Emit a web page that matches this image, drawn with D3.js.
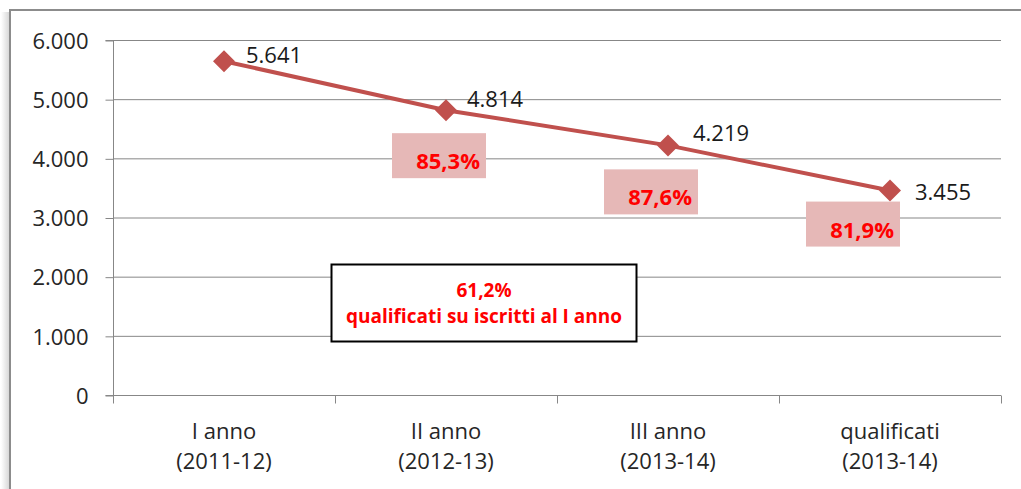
<!DOCTYPE html>
<html><head><meta charset="utf-8">
<script src="https://cdn.jsdelivr.net/npm/d3@7"></script>
<style>body{margin:0;background:#fff;}svg{display:block;font-family:"Open Sans",sans-serif;}</style>
</head><body>
<svg id="c" width="1021" height="489"></svg>
<script>
const categories = [["I anno","(2011-12)"],["II anno","(2012-13)"],["III anno","(2013-14)"],["qualificati","(2013-14)"]];
const values = [5641, 4814, 4219, 3455];
const valueLabels = ["5.641","4.814","4.219","3.455"];
const rates = ["85,3%","87,6%","81,9%"];
const yTicks = [0,1000,2000,3000,4000,5000,6000];
const yTickLabels = ["0","1.000","2.000","3.000","4.000","5.000","6.000"];
const totalRate = "61,2%";
const totalText = "qualificati su iscritti al I anno";

// annotation layout (pixel offsets relative to the data points)
const labelOffsets = [[22,2],[21,-3],[25,-4],[25,9]];
const rateBoxOffsets = [[-54,23],[-64,24],[-84,11]];

const svg = d3.select("#c");
const defs = svg.append("defs");
const g1 = defs.append("linearGradient").attr("id","sh").attr("x1","0").attr("x2","1");
g1.append("stop").attr("offset","0").attr("stop-color","#fff");
g1.append("stop").attr("offset","1").attr("stop-color","#d8d8d8");
svg.append("rect").attr("x",1).attr("y",12).attr("width",8).attr("height",477).attr("fill","url(#sh)");
svg.append("rect").attr("x",10).attr("y",10).attr("width",1030).attr("height",500)
  .attr("fill","#fff").attr("stroke","#8c8c8c").attr("stroke-width",2);

const L=113,R=1001,T=40,B=395;
const x = d3.scaleBand().domain(categories.map((d,i)=>i)).range([L,R]);
const y = d3.scaleLinear().domain([0,6000]).range([B,T]);

// gridlines
svg.append("g").selectAll("line").data(yTicks.filter(d=>d>0)).join("line")
  .attr("x1",L).attr("x2",R).attr("y1",d=>y(d)+0.5).attr("y2",d=>y(d)+0.5)
  .attr("stroke","#878787").attr("stroke-width",1);

// y axis
const ya = svg.append("g").attr("transform",`translate(${L+0.5},0.5)`)
  .call(d3.axisLeft(y).tickValues(yTicks).tickSize(8).tickPadding(17).tickFormat((d,i)=>yTickLabels[i]));
ya.select(".domain").attr("stroke","#878787").attr("d",`M-8,${y(0)}H0V${y(6000)}H-8`);
ya.selectAll(".tick line").attr("stroke","#878787");
ya.selectAll("text").attr("font-size",22).attr("fill","#262626").attr("font-family","Open Sans").attr("dy","0.35em");

// x axis
const xa = svg.append("g").attr("transform",`translate(0,${B+0.5})`);
xa.append("line").attr("x1",L).attr("x2",R).attr("stroke","#878787");
const bounds = x.domain().map(i=>x(i)).concat([R]);
xa.selectAll("line.t").data(bounds).join("line").attr("class","t")
  .attr("x1",d=>Math.round(d)+0.5).attr("x2",d=>Math.round(d)+0.5).attr("y1",0).attr("y2",8).attr("stroke","#878787");
const xl = xa.selectAll("text").data(categories).join("text")
  .attr("text-anchor","middle").attr("font-size",22).attr("fill","#262626")
  .attr("x",(d,i)=>x(i)+x.bandwidth()/2);
xl.append("tspan").attr("x",(d,i)=>x(i)+x.bandwidth()/2).attr("y",43).text(d=>d[0]);
xl.append("tspan").attr("x",(d,i)=>x(i)+x.bandwidth()/2).attr("y",73).text(d=>d[1]);

const cx = i=>x(i)+x.bandwidth()/2;

// line
svg.append("path").datum(values)
  .attr("d",d3.line().x((d,i)=>cx(i)).y(d=>y(d)))
  .attr("fill","none").attr("stroke","#c0504d").attr("stroke-width",4);
svg.append("g").selectAll("path").data(values).join("path")
  .attr("transform",(d,i)=>`translate(${cx(i)},${y(d)})`)
  .attr("d","M0,-11L11,0L0,11L-11,0Z").attr("fill","#c0504d");

// value labels
svg.append("g").selectAll("text").data(values).join("text")
  .attr("x",(d,i)=>cx(i)+labelOffsets[i][0]).attr("y",(d,i)=>y(d)+labelOffsets[i][1])
  .attr("font-size",22).attr("fill","#1a1a1a").text((d,i)=>valueLabels[i]);

// rate boxes
const rb = svg.append("g").selectAll("g").data(rates).join("g")
  .attr("transform",(d,i)=>`translate(${cx(i+1)+rateBoxOffsets[i][0]},${y(values[i+1])+rateBoxOffsets[i][1]})`);
rb.append("rect").attr("width",94).attr("height",45).attr("fill","#e6b8b7");
rb.append("text").attr("x",88).attr("y",36).attr("text-anchor","end")
  .attr("font-size",22).attr("font-weight","bold").attr("fill","#ff0000").text(d=>d);

// total box
const tb = svg.append("g").attr("transform","translate(331,264)");
tb.append("rect").attr("x",0.5).attr("y",0.5).attr("width",305).attr("height",77)
  .attr("fill","#fff").attr("stroke","#000").attr("stroke-width",2);
tb.append("text").attr("x",153).attr("y",33).attr("text-anchor","middle")
  .attr("font-size",19).attr("font-weight","bold").attr("fill","#ff0000").text(totalRate);
tb.append("text").attr("x",153).attr("y",59).attr("text-anchor","middle")
  .attr("font-size",19).attr("font-weight","bold").attr("fill","#ff0000").text(totalText);
</script>
</body></html>
